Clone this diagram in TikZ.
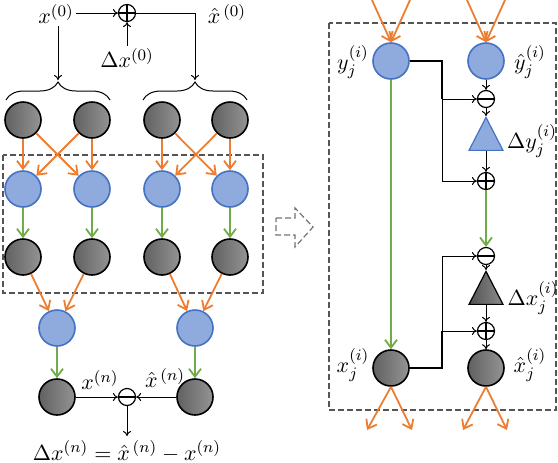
\documentclass[tikz,border=0pt]{standalone}
\usepackage{tikz}
\usepackage{color}
\usetikzlibrary{positioning, shapes, arrows.meta, calc, decorations.pathreplacing}
\definecolor{myorange}{RGB}{237,125,49}
\definecolor{mygreen}{RGB}{112,173,71}
\definecolor{myblue}{RGB}{68,114,196}
\definecolor{mylightblue}{RGB}{143,170,220}
\definecolor{mygray}{RGB}{85,85,85}
\tikzset{
  graynode/.style={circle,draw=black,inner sep=0,minimum size=18pt,line width=0.8pt,
    left color=black!62, right color=black!42},
  bluenode/.style={circle,draw=myblue,inner sep=0,minimum size=18pt,line width=0.8pt,
    fill=mylightblue},
  plusnode/.style={circle,draw,inner sep=0,minimum size=8.5pt,line width=0.6pt,
    path picture={\draw[line width=0.6pt] (path picture bounding box.north) -- (path picture bounding box.south)
      (path picture bounding box.west) -- (path picture bounding box.east);}},
  minusnode/.style={circle,draw,inner sep=0,minimum size=8.5pt,line width=0.6pt,
    path picture={\draw[line width=0.6pt] (path picture bounding box.west) -- (path picture bounding box.east);}},
  bluetri/.style={isosceles triangle,isosceles triangle apex angle=54,isosceles triangle stretches,
    shape border rotate=90,inner sep=0,minimum width=17pt,minimum height=16.5pt,
    line width=0.6pt, draw=myblue, fill=mylightblue},
  graytri/.style={isosceles triangle,isosceles triangle apex angle=54,isosceles triangle stretches,
    shape border rotate=90,inner sep=0,minimum width=17pt,minimum height=16.5pt,
    line width=0.6pt, draw=black, left color=black!68, right color=black!45},
  orangearrow/.style={-{Straight Barb[length=4pt,width=6pt]},draw=myorange,line width=0.9pt},
  greenarrow/.style={-{Straight Barb[length=4pt,width=6pt]},draw=mygreen,line width=0.9pt},
  blackarrow/.style={-{To[length=2.5pt,width=4pt]},line width=0.5pt},
  dashbox/.style={draw=mygray,dash pattern=on 3pt off 1.5pt,line width=0.6pt},
  lbl/.style={inner sep=1pt,font=\fontsize{11}{13}\selectfont}
}
\begin{document}
\begin{tikzpicture}[x=0.5pt,y=-0.5pt]
\useasboundingbox (0,0) rectangle (558,462);

\node [lbl] (x0) at (56,14) {$x^{(0)}$};
\node [plusnode] (p0) at (127,13) {};
\node [lbl] (xh0) at (227,14) {$\hat{x}^{\,(0)}$};
\node [lbl] (dx0) at (127,58) {$\Delta x^{(0)}$};
\coordinate (bl) at (58,80);
\coordinate (br) at (195,80);
\draw[blackarrow] (x0.east |- p0) -- (p0);
\draw[blackarrow] (dx0) -- (p0);
\draw[blackarrow] (x0.south -| bl) -- (bl);
\draw[blackarrow] (p0) -| (br);
\draw[decorate,decoration={brace,amplitude=9pt},line width=0.5pt] (6,100) -- (110,100);
\draw[decorate,decoration={brace,amplitude=9pt},line width=0.5pt] (143,100) -- (247,100);

\draw[dashbox] (3,155) rectangle (263,293);

\node [graynode] (g1) at (23,120) {};
\node [graynode] (g2) at (92,120) {};
\node [graynode] (g3) at (162,120) {};
\node [graynode] (g4) at (230,120) {};
\node [bluenode] (b1) at (23,189) {};
\node [bluenode] (b2) at (92,189) {};
\node [bluenode] (b3) at (162,189) {};
\node [bluenode] (b4) at (230,189) {};
\node [graynode] (h1) at (23,257) {};
\node [graynode] (h2) at (92,257) {};
\node [graynode] (h3) at (162,257) {};
\node [graynode] (h4) at (230,257) {};
\node [bluenode] (c1) at (57,328) {};
\node [bluenode] (c2) at (195,328) {};
\node [graynode] (d1) at (57,397) {};
\node [graynode] (d2) at (195,397) {};
\node [minusnode] (mn) at (127,397) {};
\node [lbl] (xn) at (100,380) {$x^{(n)}$};
\node [lbl] (xhn) at (165,378) {$\hat{x}^{\,(n)}$};
\node [lbl] (dxn) at (127,451) {$\Delta x^{(n)}=\hat{x}^{\,(n)}-x^{(n)}$};
\coordinate (dn) at (127,436);

\draw[orangearrow] (g1) -- (b1);
\draw[orangearrow] (g1) -- (b2);
\draw[orangearrow] (g2) -- (b1);
\draw[orangearrow] (g2) -- (b2);
\draw[orangearrow] (g3) -- (b3);
\draw[orangearrow] (g3) -- (b4);
\draw[orangearrow] (g4) -- (b3);
\draw[orangearrow] (g4) -- (b4);
\draw[greenarrow] (b1) -- (h1);
\draw[greenarrow] (b2) -- (h2);
\draw[greenarrow] (b3) -- (h3);
\draw[greenarrow] (b4) -- (h4);
\draw[orangearrow] (h1) -- (c1);
\draw[orangearrow] (h2) -- (c1);
\draw[orangearrow] (h3) -- (c2);
\draw[orangearrow] (h4) -- (c2);
\draw[greenarrow] (c1) -- (d1);
\draw[greenarrow] (c2) -- (d2);
\draw[blackarrow] (d1) -- (mn);
\draw[blackarrow] (d2) -- (mn);
\draw[blackarrow] (mn) -- (dn);

\draw[dashbox, draw=black!55] (276,218) -- (295,218) -- (295,208) -- (313,227) -- (295,247) -- (295,235) -- (276,235) -- cycle;

\draw[dashbox] (329,23) rectangle (556,410);

\node [bluenode] (yj) at (391,61) {};
\node [bluenode] (yh) at (486,61) {};
\node [minusnode] (m1) at (486,99) {};
\node [bluetri] (t1) at (486,140) {};
\node [plusnode] (p1) at (486,181) {};
\node [minusnode] (m2) at (486,256) {};
\node [graytri] (t2) at (486,294) {};
\node [plusnode] (p2) at (486,331) {};
\node [graynode] (xj) at (391,368) {};
\node [graynode] (xh) at (486,368) {};
\node [lbl] (lyj) at (353,62) {$y_j^{(i)}$};
\node [lbl] (lyh) at (530,62) {$\hat{y}_j^{(i)}$};
\node [lbl] (ldy) at (532,141) {$\Delta y_j^{(i)}$};
\node [lbl] (ldx) at (533,298) {$\Delta x_j^{(i)}$};
\node [lbl] (lxj) at (353,365) {$x_j^{(i)}$};
\node [lbl] (lxh) at (530,365) {$\hat{x}_j^{(i)}$};
\coordinate (i1) at (372,0);
\coordinate (i2) at (410,0);
\coordinate (i3) at (467,0);
\coordinate (i4) at (505,0);
\coordinate (o1) at (367,430);
\coordinate (o2) at (412,430);
\coordinate (o3) at (463,430);
\coordinate (o4) at (507,430);
\coordinate (ja) at (442,99);
\coordinate (jb) at (442,331);

\draw[orangearrow] (i1) -- (yj.north);
\draw[orangearrow] (i2) -- (yj.north);
\draw[orangearrow] (i3) -- (yh.north);
\draw[orangearrow] (i4) -- (yh.north);
\draw[orangearrow] (xj.south) -- (o1);
\draw[orangearrow] (xj.south) -- (o2);
\draw[orangearrow] (xh.south) -- (o3);
\draw[orangearrow] (xh.south) -- (o4);
\draw[greenarrow] (yj) -- (xj);
\draw[line width=0.6pt] (yj.east) -| (ja);
\draw[blackarrow] (ja) |- (p1);
\draw[blackarrow] (ja) -- (m1);
\draw[line width=0.6pt] (xj.east) -| (jb);
\draw[blackarrow] (jb) |- (m2);
\draw[blackarrow] (jb) -- (p2);
\draw[blackarrow] (yh) -- (m1);
\draw[blackarrow] (m1) -- (t1);
\draw[blackarrow] (t1) -- (p1);
\draw[greenarrow] (p1) -- (m2);
\draw[blackarrow] (m2) -- (t2);
\draw[blackarrow] (t2) -- (p2);
\draw[blackarrow] (p2) -- (xh);

\end{tikzpicture}
\end{document}
